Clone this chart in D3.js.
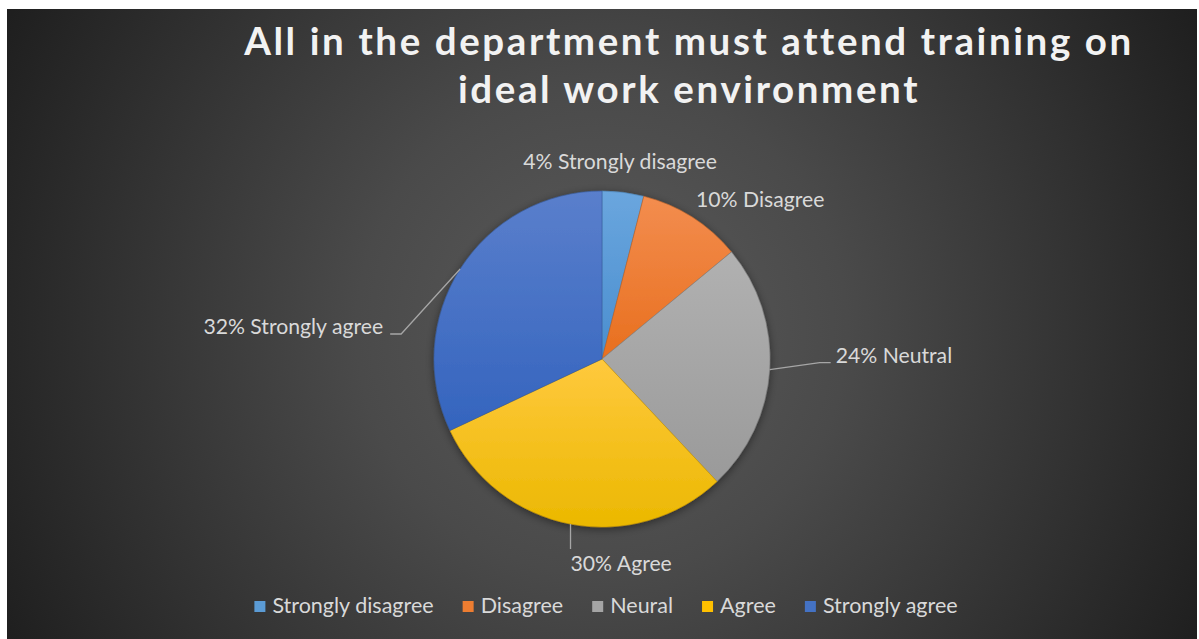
<!DOCTYPE html>
<html>
<head>
<meta charset="utf-8">
<script src="https://cdn.jsdelivr.net/npm/d3@7/dist/d3.min.js"></script>
<style>
  html, body { margin: 0; padding: 0; background: #ffffff; }
  svg { display: block; }
  text { font-family: Lato, "Open Sans", sans-serif; }
</style>
</head>
<body>
<svg id="chart" width="1199" height="639"></svg>
<script>
// Survey responses for the statement shown in the title
const categories = ["Strongly disagree", "Disagree", "Neutral", "Agree", "Strongly agree"];
const legendNames = ["Strongly disagree", "Disagree", "Neural", "Agree", "Strongly agree"];
const shares = [4, 10, 24, 30, 32];
const titleLines = ["All in the department must attend training on", "ideal work environment"];

// Office-style fills: [top, bottom] of each slice's vertical gradient
const baseColors = ["#5b9bd5", "#ed7d31", "#a5a5a5", "#ffc000", "#4472c4"];
const gradTop = ["#6aa6de", "#f38d4f", "#b1b1b1", "#ffc93e", "#5a7fcc"];
const gradBottom = ["#4a8ecf", "#e86f1e", "#9a9a9a", "#ebb800", "#3464be"];

const W = 1199, H = 639;
const frame = { x: 7, y: 9, w: 1190, h: 630 };
const cx = 602, cy = 359, radius = 168;

const svg = d3.select("#chart");
const defs = svg.append("defs");

// Dark radial background
const bg = defs.append("radialGradient")
  .attr("id", "bgGrad")
  .attr("gradientUnits", "userSpaceOnUse")
  .attr("cx", 602).attr("cy", 330).attr("r", 700);
bg.append("stop").attr("offset", "0").attr("stop-color", "#5b5b5b");
bg.append("stop").attr("offset", "0.35").attr("stop-color", "#4a4a4a");
bg.append("stop").attr("offset", "1").attr("stop-color", "#1c1c1c");

svg.append("rect")
  .attr("x", frame.x).attr("y", frame.y)
  .attr("width", frame.w).attr("height", frame.h)
  .attr("fill", "url(#bgGrad)");

// Slice gradients
categories.forEach((c, i) => {
  const g = defs.append("linearGradient")
    .attr("id", "slice" + i)
    .attr("x1", 0).attr("y1", 0).attr("x2", 0).attr("y2", 1);
  g.append("stop").attr("offset", "0").attr("stop-color", gradTop[i]);
  g.append("stop").attr("offset", "1").attr("stop-color", gradBottom[i]);
});

// Soft shadow behind the pie
const shadow = defs.append("filter").attr("id", "pieShadow")
  .attr("x", "-20%").attr("y", "-20%").attr("width", "140%").attr("height", "140%");
shadow.append("feDropShadow")
  .attr("dx", 0).attr("dy", 2).attr("stdDeviation", 4)
  .attr("flood-color", "#000").attr("flood-opacity", 0.45);

// Title
const title = svg.append("text")
  .attr("x", 689).attr("y", 55)
  .attr("text-anchor", "middle")
  .attr("fill", "#f2f2f2")
  .style("font-weight", "700")
  .style("font-size", "38.5px")
  .style("letter-spacing", "2.6px");
titleLines.forEach((t, i) => {
  title.append("tspan").attr("x", 689).attr("dy", i === 0 ? 0 : 48).text(t);
});

// Pie
const pie = d3.pie().sort(null).value(d => d.value);
const arcs = pie(categories.map((c, i) => ({ name: c, value: shares[i], i })));
const arc = d3.arc().innerRadius(0).outerRadius(radius);

const pieG = svg.append("g")
  .attr("transform", `translate(${cx},${cy})`)
  .attr("filter", "url(#pieShadow)");

pieG.selectAll("path")
  .data(arcs)
  .join("path")
  .attr("d", arc)
  .attr("fill", d => `url(#slice${d.data.i})`)
  .attr("stroke", d => d3.color(baseColors[d.data.i]).darker(0.6))
  .attr("stroke-width", 0.6);

// Data labels: leader starts where each slice's mid-angle meets the rim
const edge = d => {
  const a = (d.startAngle + d.endAngle) / 2;
  return [cx + radius * Math.sin(a), cy - radius * Math.cos(a)];
};

// Label placement relative to the rim point (dx, dy of text, optional leader path)
const labelLayout = [
  { dx: -3, dy: -23, anchor: "middle", leader: null },
  { dx: 4, dy: -10, anchor: "start", leader: null },
  { dx: 66, dy: -7, anchor: "start", leader: [[50, -7], [61, -7]] },
  { dx: 0, dy: 47, anchor: "start", leader: [[0, 1], [0, 25]] },
  { dx: -77, dy: 65, anchor: "end", leader: [[-59, 65], [-70, 65]] }
];

const labelG = svg.append("g");
arcs.forEach((d, k) => {
  const [ex, ey] = edge(d);
  const L = labelLayout[k];
  if (L.leader) {
    const pts = [[ex, ey]].concat(L.leader.map(p => [ex + p[0], ey + p[1]]));
    labelG.append("path")
      .attr("d", d3.line()(pts))
      .attr("fill", "none")
      .attr("stroke", "#a6a6a6")
      .attr("stroke-width", 1.3);
  }
  labelG.append("text")
    .attr("x", ex + L.dx)
    .attr("y", ey + L.dy)
    .attr("text-anchor", L.anchor)
    .attr("fill", "#d9d9d9")
    .style("font-size", "21.2px")
    .text(`${d.data.value}% ${d.data.name}`);
});

// Legend along the bottom, centred under the pie
const legend = svg.append("g");
const items = legendNames.map((name, i) => {
  const g = legend.append("g");
  g.append("rect").attr("width", 11).attr("height", 11).attr("y", -12)
    .attr("fill", baseColors[i]);
  const t = g.append("text").attr("x", 18).attr("y", 0)
    .attr("fill", "#d9d9d9").style("font-size", "21.5px").text(name);
  return { g, w: 18 + t.node().getComputedTextLength() };
});
const gap = 29;
const total = d3.sum(items, d => d.w) + gap * (items.length - 1);
let x0 = 606 - total / 2;
items.forEach(it => {
  it.g.attr("transform", `translate(${x0},613)`);
  x0 += it.w + gap;
});
</script>
</body>
</html>
